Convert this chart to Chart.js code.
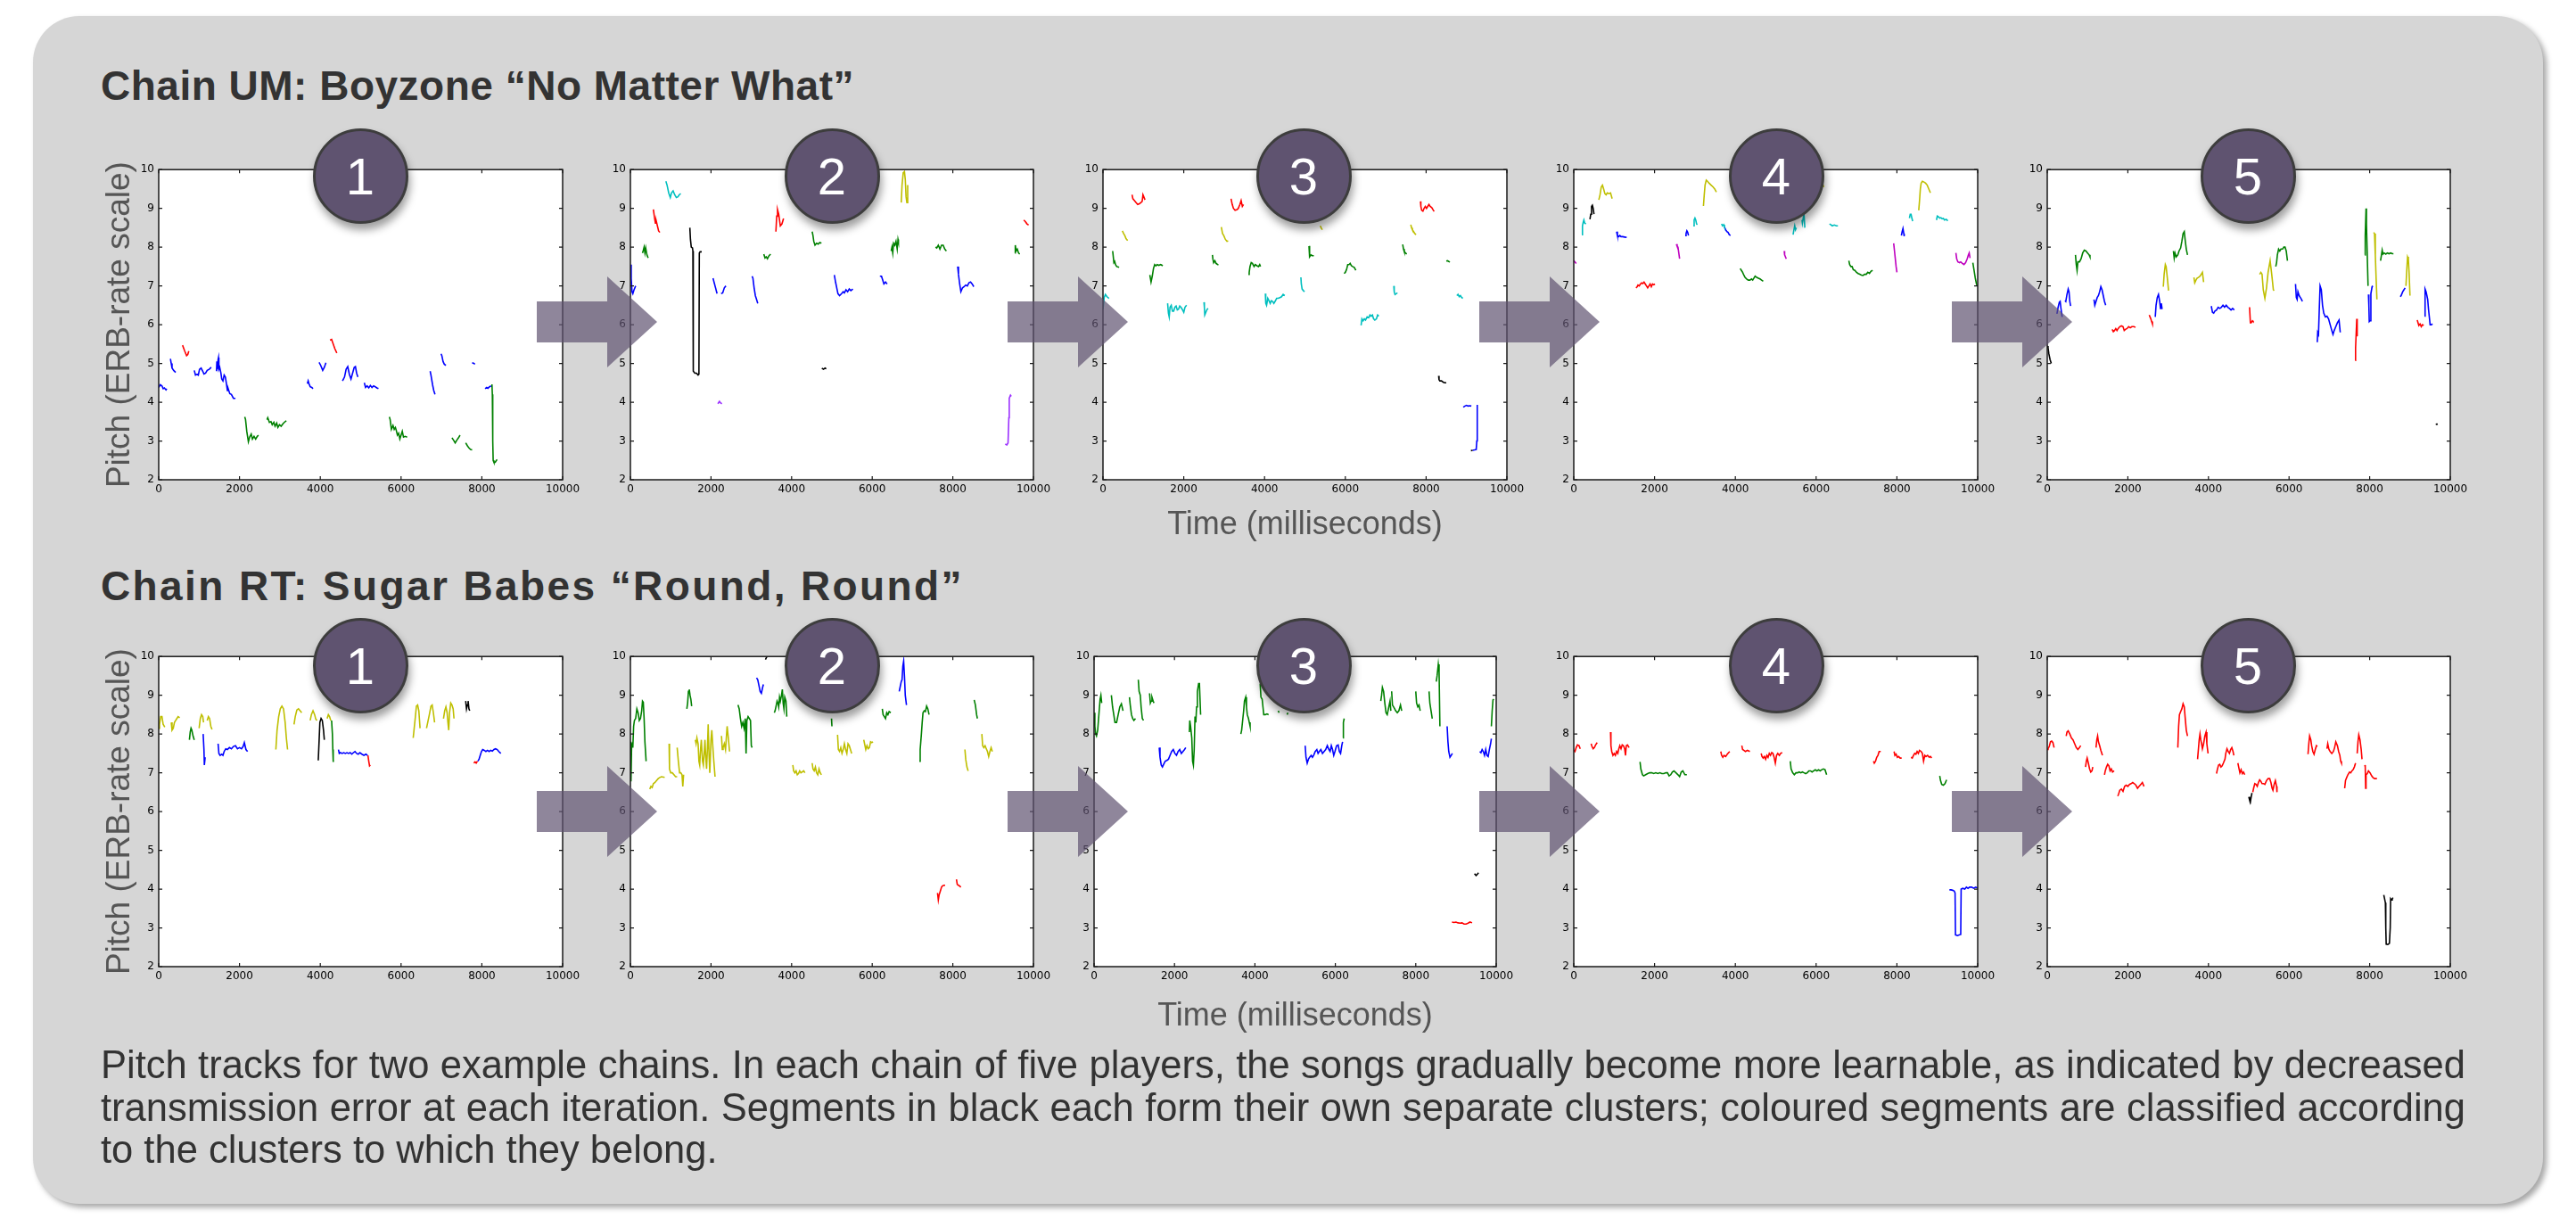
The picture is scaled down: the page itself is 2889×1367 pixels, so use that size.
<!DOCTYPE html>
<html>
<head>
<meta charset="utf-8">
<script src="https://cdn.jsdelivr.net/npm/chart.js@4.4.1/dist/chart.umd.min.js"></script>
<style>
html,body{margin:0;padding:0;background:#fff;}
body{width:2889px;height:1367px;position:relative;overflow:hidden;font-family:"Liberation Sans",Arial,sans-serif;}
#box{position:absolute;left:37px;top:18px;width:2815px;height:1332px;background:#d6d6d6;border-radius:52px;box-shadow:4px 4px 6px rgba(0,0,0,0.35);}
.heading{position:absolute;left:113px;font-weight:bold;font-size:46px;line-height:46px;color:#333;white-space:nowrap;}
canvas.pc{position:absolute;}
#arrows{position:absolute;left:0;top:0;pointer-events:none;}
.badge{position:absolute;width:107px;height:107px;border-radius:50%;background:#5f5370;border:3px solid #3d3d3d;box-sizing:border-box;color:#fff;font-size:58px;line-height:101px;text-align:center;box-shadow:2px 7px 10px rgba(0,0,0,0.38);}
.cap{position:absolute;left:113px;font-size:43.5px;line-height:47.5px;color:#333;white-space:nowrap;}
</style>
</head>
<body>
<div id="box"></div>
<div class="heading" id="h1" style="top:73px">Chain UM: Boyzone “No Matter What”</div>
<div class="heading" id="h2" style="top:634px">Chain RT: Sugar Babes “Round, Round”</div>
<div id="charts"></div>
<svg id="arrows" width="2889" height="1367"></svg>
<div id="badges"></div>
<div class="cap" id="c1" style="top:1171px">Pitch tracks for two example chains. In each chain of five players, the songs gradually become more learnable, as indicated by decreased</div>
<div class="cap" id="c2" style="top:1218.5px">transmission error at each iteration. Segments in black each form their own separate clusters; coloured segments are classified according</div>
<div class="cap" id="c3" style="top:1266px">to the clusters to which they belong.</div>
<script>
// ---------------- DATA ----------------
const xTicks = [0, 2000, 4000, 6000, 8000, 10000];
const yTicks = [2, 3, 4, 5, 6, 7, 8, 9, 10];
const playerLabels = ['1', '2', '3', '4', '5'];
const xTitle = 'Time (milliseconds)';
const yTitle = 'Pitch (ERB-rate scale)';

// each segment: [cluster, [[time ms, pitch], ...]]
const um1 = [
 ['b',[[0,4.38],[40,4.45],[80,4.42],[110,4.35],[140,4.37],[180,4.32],[200,4.35]]],
 ['b',[[290,5.12],[310,5.0],[330,4.88],[370,4.82],[420,4.77]]],
 ['r',[[590,5.47],[640,5.33],[690,5.2],[720,5.23],[745,5.32]]],
 ['b',[[880,4.82],[910,4.7],[950,4.72],[980,4.7],[1010,4.85],[1050,4.88],[1090,4.8],[1120,4.73],[1160,4.75],[1200,4.82],[1250,4.85],[1300,4.9]]],
 ['b',[[1430,4.8],[1440,5.05],[1450,4.85],[1470,5.1],[1480,5.15],[1490,4.85],[1510,4.9],[1540,4.75],[1560,4.6],[1590,4.55],[1620,4.7],[1650,4.65],[1680,4.45],[1700,4.3],[1720,4.35],[1760,4.22],[1800,4.2],[1850,4.1],[1900,4.1]]],
 ['g',[[2130,3.62],[2150,3.55],[2180,3.25],[2220,2.98],[2250,3.1],[2290,3.18],[2320,3.05],[2360,3.12],[2400,3.05],[2440,3.12],[2470,3.15]]],
 ['g',[[2680,3.55],[2700,3.6],[2740,3.48],[2780,3.5],[2810,3.42],[2850,3.48],[2880,3.38],[2920,3.46],[2950,3.35],[2990,3.42],[3030,3.38],[3080,3.45],[3130,3.5],[3160,3.52]]],
 ['b',[[3680,4.48],[3700,4.55],[3720,4.48],[3750,4.4],[3790,4.38],[3820,4.35]]],
 ['b',[[3970,5.03],[4010,4.95],[4060,4.82],[4100,4.9],[4140,5.02]]],
 ['r',[[4240,5.6],[4280,5.62],[4320,5.5],[4360,5.38],[4410,5.27]]],
 ['b',[[4550,4.55],[4600,4.65],[4640,4.85],[4680,4.92],[4720,4.72],[4760,4.6],[4800,4.75],[4840,4.9],[4870,4.92],[4900,4.75],[4930,4.65]]],
 ['b',[[5090,4.5],[5120,4.38],[5160,4.42],[5200,4.37],[5240,4.43],[5280,4.38],[5320,4.42],[5360,4.4],[5400,4.37],[5440,4.35]]],
 ['g',[[5710,3.62],[5730,3.55],[5760,3.3],[5800,3.4],[5830,3.3],[5860,3.35],[5880,3.28],[5910,3.15],[5940,3.2],[5970,3.05],[6000,3.15],[6030,3.25],[6060,3.1],[6100,3.12],[6150,3.1]]],
 ['b',[[6720,4.8],[6740,4.7],[6780,4.45],[6810,4.3],[6840,4.2]]],
 ['b',[[6990,5.25],[7010,5.2],[7040,5.05],[7070,4.98],[7110,4.95]]],
 ['g',[[7260,3.08],[7300,3.02],[7340,2.95],[7380,3.02],[7420,3.08],[7460,3.15]]],
 ['g',[[7600,2.95],[7640,2.88],[7680,2.82],[7720,2.78],[7760,2.77]]],
 ['b',[[7760,5.02],[7800,5.0],[7830,4.98]]],
 ['b',[[8080,4.35],[8120,4.38],[8150,4.36],[8190,4.4],[8230,4.42]]],
 ['g',[[8250,4.46],[8260,4.2],[8270,3.0],[8280,2.5],[8300,2.45],[8330,2.45],[8360,2.5],[8380,2.52]]]
];
const um2 = [
 ['b',[[0,7.55],[20,7.2],[40,6.85],[60,6.8],[90,6.9],[130,7.0]]],
 ['g',[[300,7.85],[320,7.92],[340,8.0],[360,7.85],[380,7.98],[410,7.8],[440,7.72]]],
 ['r',[[570,8.97],[600,8.75],[620,8.62],[640,8.68],[670,8.55],[700,8.42],[730,8.38]]],
 ['c',[[880,9.7],[910,9.6],[950,9.4],[990,9.28],[1020,9.4],[1060,9.45],[1100,9.35],[1140,9.28],[1180,9.3],[1210,9.35],[1250,9.38]]],
 ['k',[[1475,8.5],[1490,8.2],[1510,8.0],[1540,7.98],[1550,7.9],[1560,4.8],[1600,4.75],[1640,4.75],[1680,4.7],[1700,4.72],[1710,7.85],[1730,7.88],[1770,7.88]]],
 ['b',[[2050,7.2],[2100,7.0],[2150,6.8]]],
 ['v',[[2170,3.96],[2210,4.02],[2240,3.98],[2270,3.96]]],
 ['b',[[2250,6.8],[2290,6.82],[2330,6.95],[2370,7.0]]],
 ['b',[[3020,7.25],[3040,7.2],[3070,6.95],[3100,6.75],[3130,6.65],[3160,6.55]]],
 ['g',[[3310,7.82],[3340,7.72],[3370,7.75],[3400,7.7],[3440,7.78],[3480,7.82]]],
 ['r',[[3610,8.4],[3630,8.8],[3650,8.97],[3680,8.85],[3720,8.55],[3760,8.6],[3800,8.74]]],
 ['g',[[4510,8.4],[4530,8.3],[4550,8.15],[4580,8.05],[4620,8.1],[4660,8.08],[4700,8.12],[4740,8.1]]],
 ['k',[[4750,4.88],[4790,4.85],[4830,4.88],[4860,4.86]]],
 ['b',[[5060,7.28],[5090,7.1],[5120,6.95],[5150,6.8],[5190,6.75],[5240,6.8],[5280,6.85],[5310,6.82],[5350,6.9],[5390,6.85],[5430,6.92],[5470,6.88],[5520,6.92]]],
 ['b',[[6190,7.25],[6230,7.25],[6260,7.15],[6290,7.05],[6330,7.1],[6370,7.05]]],
 ['g',[[6470,7.9],[6490,8.0],[6510,7.85],[6530,8.1],[6560,8.05],[6590,8.15],[6620,7.95],[6640,8.2],[6650,8.15]]],
 ['y',[[6720,9.15],[6740,9.6],[6770,9.92],[6800,9.95],[6820,9.75],[6840,9.3],[6860,9.15],[6880,9.6]]],
 ['g',[[7570,8.0],[7600,7.98],[7640,8.05],[7680,7.95],[7720,8.05],[7760,8.05],[7800,7.95],[7840,7.9]]],
 ['b',[[8120,7.5],[8140,7.3],[8170,7.05],[8200,6.85],[8240,6.95],[8280,6.98],[8320,7.02],[8360,7.0],[8400,7.08],[8440,7.1],[8480,7.05],[8520,6.98]]],
 ['v',[[9300,2.92],[9340,2.9],[9370,2.95],[9390,3.6],[9400,4.1],[9430,4.18],[9450,4.15]]],
 ['g',[[9540,7.85],[9550,8.05],[9570,7.9],[9600,7.95],[9630,7.85],[9660,7.82]]],
 ['r',[[9760,8.7],[9800,8.66],[9840,8.6],[9880,8.57]]]
];
const um3 = [
 ['c',[[0,6.4],[30,6.7],[60,6.78],[100,6.72],[150,6.68]]],
 ['g',[[240,7.9],[260,7.7],[270,7.6],[290,7.63],[310,7.55],[340,7.5],[400,7.48]]],
 ['y',[[480,8.42],[510,8.35],[540,8.3],[570,8.22],[610,8.17]]],
 ['r',[[720,9.35],[740,9.25],[780,9.2],[820,9.15],[860,9.1],[900,9.12],[940,9.15],[970,9.18],[990,9.35],[1010,9.3],[1040,9.22]]],
 ['g',[[1160,7.28],[1190,7.1],[1220,7.25],[1250,7.45],[1280,7.55],[1310,7.52],[1340,7.55],[1380,7.53],[1430,7.55],[1480,7.52]]],
 ['c',[[1600,6.55],[1620,6.3],[1640,6.2],[1660,6.45],[1690,6.5],[1720,6.35],[1750,6.35],[1780,6.45],[1810,6.48],[1840,6.38],[1870,6.4],[1900,6.48],[1930,6.45],[1960,6.4],[2000,6.32],[2030,6.45],[2070,6.5]]],
 ['c',[[2500,6.58],[2510,6.45],[2520,6.25],[2540,6.3],[2570,6.38],[2600,6.42]]],
 ['g',[[2710,7.8],[2720,7.7],[2740,7.6],[2770,7.65],[2800,7.58],[2840,7.55],[2860,7.55]]],
 ['y',[[2930,8.52],[2960,8.35],[2990,8.3],[3030,8.2],[3070,8.15],[3100,8.16]]],
 ['r',[[3170,9.25],[3200,9.1],[3230,9.0],[3270,8.95],[3320,8.97],[3350,9.0],[3390,9.1],[3420,9.2],[3450,9.05],[3480,9.1]]],
 ['g',[[3600,7.3],[3620,7.35],[3640,7.5],[3670,7.6],[3700,7.58],[3740,7.5],[3770,7.55],[3810,7.52],[3850,7.5],[3880,7.55],[3900,7.5]]],
 ['c',[[4020,6.8],[4030,6.55],[4050,6.5],[4080,6.68],[4110,6.62],[4140,6.55],[4170,6.62],[4200,6.6],[4230,6.55],[4260,6.6],[4300,6.68],[4340,6.68],[4380,6.7],[4420,6.72],[4460,6.78],[4500,6.75]]],
 ['c',[[4900,7.22],[4910,7.05],[4930,6.92],[4960,6.88],[4990,6.85],[5010,6.85]]],
 ['g',[[5100,8.03],[5110,7.85],[5120,7.75],[5150,7.8],[5180,7.78],[5220,7.78]]],
 ['y',[[5380,8.55],[5400,8.5],[5430,8.45]]],
 ['g',[[5970,7.32],[6000,7.35],[6030,7.42],[6060,7.55],[6090,7.55],[6120,7.58],[6150,7.52],[6180,7.5],[6220,7.48],[6260,7.4]]],
 ['c',[[6390,5.98],[6410,6.15],[6440,6.1],[6470,6.15],[6500,6.12],[6540,6.2],[6580,6.18],[6610,6.25],[6640,6.22],[6670,6.25],[6700,6.15],[6730,6.12],[6770,6.15],[6800,6.25],[6830,6.22]]],
 ['c',[[7200,7.0],[7210,6.85],[7230,6.78],[7260,6.8],[7290,6.82]]],
 ['g',[[7420,8.07],[7440,7.95],[7460,7.88],[7490,7.85],[7520,7.82]]],
 ['y',[[7620,8.58],[7640,8.5],[7660,8.45],[7690,8.4],[7720,8.35],[7750,8.32]]],
 ['r',[[7860,9.18],[7870,9.05],[7890,8.95],[7920,8.93],[7950,9.0],[7980,9.05],[8010,9.0],[8040,9.05],[8070,9.1],[8100,9.05],[8140,9.02],[8180,8.95],[8200,8.92]]],
 ['k',[[8310,4.68],[8320,4.58],[8340,4.55],[8380,4.55],[8420,4.52],[8460,4.5],[8500,4.5]]],
 ['g',[[8500,7.64],[8530,7.65],[8560,7.63],[8590,7.62]]],
 ['c',[[8760,6.75],[8790,6.78],[8820,6.72],[8850,6.75],[8880,6.7],[8910,6.68]]],
 ['b',[[8920,3.87],[8960,3.9],[9000,3.92],[9040,3.9],[9080,3.91],[9120,3.9]]],
 ['k',[[9110,2.75],[9150,2.76]]],
 ['b',[[9150,2.76],[9200,2.77],[9240,2.78],[9255,3.0],[9262,3.92],[9270,3.93]]]
];
const um4 = [
 ['m',[[0,7.65],[30,7.62],[60,7.58]]],
 ['c',[[200,8.32],[215,8.55],[235,8.65],[250,8.7],[270,8.62],[300,8.6]]],
 ['k',[[400,8.72],[420,8.85],[440,9.05],[460,9.08],[480,9.0],[500,8.85]]],
 ['y',[[620,9.22],[650,9.35],[680,9.55],[710,9.6],[740,9.5],[770,9.38],[800,9.35],[830,9.4],[870,9.38],[910,9.4],[950,9.25]]],
 ['b',[[1060,8.4],[1080,8.3],[1110,8.27],[1140,8.3],[1170,8.27],[1210,8.27],[1260,8.26],[1310,8.25]]],
 ['r',[[1540,6.95],[1570,6.98],[1590,7.02],[1620,7.0],[1650,7.05],[1680,7.08],[1710,7.06],[1740,7.1],[1770,7.05],[1800,7.0],[1830,6.95],[1860,7.0],[1890,7.05],[1920,6.98],[1950,7.05],[1980,7.03],[2010,7.05]]],
 ['m',[[2540,8.08],[2560,8.02],[2580,8.0],[2600,7.85],[2620,7.7]]],
 ['b',[[2760,8.3],[2780,8.35],[2800,8.42],[2820,8.38],[2840,8.3]]],
 ['c',[[2960,8.55],[2980,8.7],[3000,8.75],[3020,8.7],[3040,8.6],[3060,8.58]]],
 ['y',[[3210,9.06],[3230,9.35],[3250,9.6],[3280,9.73],[3310,9.7],[3350,9.65],[3400,9.6],[3450,9.55],[3490,9.5],[3530,9.42]]],
 ['c',[[3660,8.6],[3680,8.55],[3710,8.58],[3730,8.52]]],
 ['b',[[3730,8.52],[3760,8.45],[3790,8.4],[3820,8.38],[3850,8.32],[3880,8.3]]],
 ['g',[[4120,7.45],[4150,7.4],[4180,7.35],[4210,7.28],[4240,7.22],[4280,7.18],[4320,7.15],[4360,7.15],[4400,7.18],[4430,7.15],[4460,7.2],[4490,7.25],[4530,7.22],[4570,7.2],[4610,7.18],[4650,7.15],[4690,7.12]]],
 ['m',[[5210,7.9],[5220,7.8],[5240,7.75],[5260,7.7]]],
 ['c',[[5430,8.32],[5450,8.45],[5470,8.55],[5490,8.45],[5510,8.5]]],
 ['c',[[5650,8.7],[5660,8.62],[5680,8.75],[5700,8.85],[5720,8.5]]],
 ['y',[[6150,9.65],[6170,9.6],[6190,9.55]]],
 ['c',[[6330,8.6],[6360,8.58],[6400,8.55],[6450,8.57],[6500,8.55],[6540,8.55]]],
 ['g',[[6810,7.65],[6830,7.55],[6860,7.5],[6890,7.5],[6920,7.42],[6960,7.4],[7000,7.35],[7040,7.32],[7080,7.3],[7120,7.28],[7160,7.27],[7200,7.3],[7240,7.3],[7280,7.35],[7320,7.32],[7360,7.38],[7400,7.4]]],
 ['m',[[7920,8.1],[7940,7.9],[7960,7.7],[7980,7.5],[8000,7.35]]],
 ['b',[[8110,8.3],[8130,8.4],[8150,8.48],[8170,8.35],[8180,8.28]]],
 ['c',[[8310,8.75],[8330,8.85],[8350,8.85],[8370,8.75],[8390,8.67]]],
 ['y',[[8540,8.95],[8560,9.2],[8580,9.5],[8600,9.65],[8630,9.7],[8670,9.68],[8710,9.65],[8750,9.6],[8790,9.5],[8830,9.4]]],
 ['c',[[8980,8.7],[9000,8.8],[9030,8.78],[9060,8.75],[9090,8.76],[9120,8.73],[9150,8.74],[9180,8.7],[9220,8.72],[9260,8.68]]],
 ['m',[[9460,7.85],[9480,7.7],[9510,7.62],[9550,7.6],[9580,7.62],[9620,7.58],[9660,7.55],[9700,7.6],[9740,7.7],[9770,7.8],[9790,7.85],[9810,7.72]]],
 ['g',[[9880,7.6],[9910,7.4],[9940,7.2],[9970,7.05],[9990,7.0]]]
];
const um5 = [
 ['k',[[0,5.45],[20,5.4],[40,5.25],[70,5.1],[100,5.0]]],
 ['b',[[240,6.28],[270,6.45],[300,6.58],[320,6.6],[340,6.42],[370,6.2]]],
 ['b',[[440,6.62],[460,6.6],[490,6.78],[520,6.92],[540,6.85],[560,6.6],[580,6.48]]],
 ['g',[[700,7.8],[720,7.55],[740,7.4],[760,7.62],[800,7.62],[840,7.7],[880,7.85],[920,7.92],[960,7.9],[1000,7.85],[1040,7.8],[1060,7.75]]],
 ['b',[[1160,6.65],[1180,6.5],[1210,6.6],[1240,6.7],[1270,6.75],[1300,6.85],[1330,6.98],[1360,6.9],[1390,6.75],[1420,6.6],[1450,6.5]]],
 ['r',[[1610,5.88],[1640,5.82],[1670,5.85],[1700,5.9],[1730,5.85],[1760,5.9],[1800,5.95],[1840,5.97],[1880,5.95],[1910,5.85],[1940,5.88],[1980,5.9],[2020,5.95],[2060,5.92],[2100,5.95],[2150,5.95],[2190,5.93]]],
 ['r',[[2530,6.25],[2550,6.2],[2570,6.15],[2590,6.08],[2610,6.02]]],
 ['b',[[2680,6.2],[2700,6.5],[2730,6.7],[2760,6.78],[2790,6.6],[2810,6.42],[2830,6.55],[2850,6.4]]],
 ['y',[[2880,6.98],[2900,7.3],[2930,7.55],[2950,7.5],[2980,7.2],[3010,6.88]]],
 ['g',[[3130,7.9],[3150,7.72],[3170,7.85],[3200,7.75],[3240,7.8],[3270,7.9],[3310,7.98],[3340,8.15],[3370,8.35],[3400,8.4],[3420,8.2],[3450,7.95],[3480,7.8]]],
 ['y',[[3640,7.22],[3660,7.08],[3690,7.15],[3720,7.2],[3750,7.22],[3790,7.25],[3820,7.3],[3850,7.35],[3880,7.1]]],
 ['b',[[4070,6.48],[4100,6.32],[4130,6.3],[4160,6.35],[4200,6.38],[4240,6.45],[4280,6.42],[4320,6.45],[4360,6.5],[4400,6.45],[4440,6.5],[4480,6.45],[4520,6.42],[4560,6.38],[4600,6.42],[4640,6.38]]],
 ['r',[[5020,6.45],[5040,6.05],[5060,6.05],[5090,6.1],[5110,6.08]]],
 ['y',[[5270,7.3],[5300,7.35],[5330,7.3],[5360,6.9],[5400,6.68],[5440,6.95],[5480,7.35],[5530,7.65],[5570,7.3],[5610,6.9],[5630,6.88]]],
 ['g',[[5670,7.5],[5690,7.6],[5710,7.8],[5740,7.95],[5770,7.9],[5800,7.95],[5840,7.95],[5870,8.0],[5900,8.0],[5930,7.9],[5960,7.65]]],
 ['b',[[6160,7.05],[6180,6.7],[6200,6.65],[6220,6.85],[6250,6.75],[6280,6.7],[6310,6.65],[6330,6.6]]],
 ['b',[[6700,5.55],[6710,5.8],[6730,5.75],[6750,6.4],[6770,7.0],[6800,6.9],[6830,6.5],[6860,6.3],[6900,6.2],[6940,6.22],[6980,6.15],[7020,6.0],[7060,5.85],[7090,5.75],[7120,5.85],[7160,5.95],[7200,6.05],[7240,6.12],[7270,5.8]]],
 ['r',[[7640,5.08],[7650,5.4],[7670,5.9],[7680,6.15],[7690,5.7]]],
 ['g',[[7880,7.8],[7890,8.3],[7910,9.0],[7920,8.6],[7940,7.8],[7960,7.0]]],
 ['b',[[7970,6.78],[7980,6.5],[7990,6.08],[8010,6.1],[8030,6.8],[8060,6.98],[8080,7.0]]],
 ['y',[[8100,8.38],[8120,8.35],[8140,7.8],[8160,7.2],[8180,6.65]]],
 ['g',[[8270,7.65],[8290,7.78],[8310,7.92],[8330,7.82],[8360,7.85],[8400,7.82],[8440,7.85],[8480,7.83],[8520,7.85],[8560,7.83],[8590,7.83]]],
 ['b',[[8760,6.72],[8780,6.75],[8800,6.8],[8820,6.85],[8850,6.9],[8880,6.95]]],
 ['y',[[8900,7.0],[8920,7.4],[8940,7.75],[8960,7.7],[8980,7.3],[9000,6.75]]],
 ['r',[[9180,6.12],[9200,6.05],[9220,5.98],[9250,6.02],[9280,5.95],[9310,6.0],[9340,5.98]]],
 ['b',[[9360,6.22],[9370,6.6],[9380,6.92],[9400,6.85],[9420,6.75],[9440,6.65],[9460,6.4],[9480,6.2],[9500,6.0],[9530,6.0],[9560,6.02]]],
 ['k',[[9640,3.44],[9660,3.43],[9690,3.44]]]
];
const rt1 = [
 ['y',[[0,8.15],[20,8.25],[50,8.45],[80,8.45],[110,8.25],[150,8.18]]],
 ['y',[[310,8.3],[330,8.1],[360,8.15],[390,8.3],[420,8.35],[450,8.4],[480,8.45],[520,8.42]]],
 ['g',[[760,7.85],[780,8.05],[800,8.15],[820,8.1],[850,7.95],[880,7.85]]],
 ['y',[[1000,8.15],[1030,8.4],[1060,8.5],[1090,8.45],[1110,8.3]]],
 ['b',[[1100,8.0],[1120,7.6],[1130,7.2],[1140,7.2],[1150,7.4]]],
 ['y',[[1200,8.35],[1230,8.45],[1260,8.4],[1290,8.2],[1320,8.12]]],
 ['b',[[1470,7.75],[1490,7.5],[1520,7.45],[1560,7.48],[1590,7.45],[1620,7.55],[1660,7.62],[1700,7.6],[1750,7.65],[1800,7.62],[1850,7.68],[1900,7.7],[1950,7.62],[2000,7.65],[2050,7.62],[2090,7.68],[2120,7.78],[2160,7.6],[2200,7.55]]],
 ['y',[[2900,7.6],[2930,8.1],[2970,8.45],[3010,8.65],[3050,8.72],[3090,8.65],[3130,8.3],[3160,7.9],[3190,7.6]]],
 ['y',[[3350,8.25],[3380,8.45],[3420,8.62],[3460,8.65],[3500,8.6],[3540,8.55]]],
 ['y',[[3750,8.35],[3780,8.5],[3820,8.6],[3860,8.5],[3890,8.38],[3920,8.35]]],
 ['k',[[3950,7.32],[3970,7.8],[3990,8.3],[4020,8.4],[4050,8.35],[4080,8.1],[4100,7.85]]],
 ['y',[[4170,8.4],[4200,8.5],[4230,8.45],[4260,8.35]]],
 ['g',[[4280,8.35],[4300,8.0],[4310,7.6],[4320,7.3],[4340,7.3]]],
 ['b',[[4450,7.6],[4470,7.5],[4500,7.52],[4540,7.5],[4580,7.52],[4620,7.5],[4660,7.52],[4700,7.5],[4740,7.52],[4780,7.48],[4820,7.52],[4860,7.55],[4900,7.5],[4940,7.48],[4980,7.52],[5030,7.48],[5080,7.45],[5130,7.48],[5170,7.45]]],
 ['r',[[5180,7.45],[5200,7.3],[5220,7.18],[5240,7.2]]],
 ['y',[[6300,7.9],[6320,8.1],[6350,8.4],[6380,8.72],[6410,8.75],[6440,8.6],[6470,8.15]]],
 ['y',[[6630,8.15],[6660,8.3],[6700,8.5],[6740,8.72],[6770,8.75],[6800,8.55],[6830,8.3]]],
 ['y',[[7050,8.4],[7080,8.6],[7110,8.7],[7140,8.55],[7160,8.3],[7180,8.1],[7200,8.55],[7230,8.8],[7260,8.75],[7290,8.65],[7310,8.4]]],
 ['k',[[7600,8.85],[7620,8.65],[7640,8.75],[7660,8.85],[7680,8.65],[7700,8.6]]],
 ['r',[[7800,7.25],[7830,7.28],[7860,7.25],[7890,7.3]]],
 ['b',[[7900,7.3],[7930,7.35],[7960,7.45],[7990,7.55],[8020,7.6],[8060,7.58],[8100,7.55],[8140,7.58],[8180,7.55],[8220,7.58],[8260,7.56],[8300,7.6],[8340,7.62],[8380,7.6],[8420,7.55],[8470,7.5]]]
];
const rt2 = [
 ['g',[[0,7.8],[10,7.0],[20,6.78],[30,7.7],[50,7.75],[60,7.65],[80,8.2],[100,8.35],[130,8.4],[160,8.65],[190,8.55],[220,8.35],[250,8.4],[280,8.6],[300,8.85],[320,8.82],[340,8.4],[360,7.8],[390,7.3]]],
 ['y',[[480,6.58],[510,6.65],[540,6.62],[570,6.72],[610,6.75],[650,6.8],[690,6.85],[730,6.88],[770,6.9],[850,6.88]]],
 ['y',[[960,7.75],[970,7.1],[1000,7.0],[1040,7.0],[1080,6.95],[1120,6.9],[1160,6.9]]],
 ['y',[[1160,7.65],[1190,7.3],[1220,7.0],[1250,7.0],[1280,6.95],[1300,6.65],[1320,6.95]]],
 ['g',[[1400,8.65],[1420,8.8],[1440,9.1],[1460,9.15],[1480,9.0],[1500,8.9],[1520,8.72]]],
 ['y',[[1610,7.85],[1630,7.75],[1650,7.9],[1680,7.75],[1700,7.3],[1720,7.2],[1740,7.6],[1760,7.85],[1790,7.3],[1810,7.2],[1830,7.5],[1850,7.85],[1870,7.4],[1890,7.1],[1910,7.6],[1930,8.25],[1950,7.5],[1970,7.0],[2000,7.85],[2020,8.1],[2050,7.6],[2070,7.3],[2100,6.9]]],
 ['y',[[2260,7.95],[2280,7.6],[2300,7.65],[2330,7.75],[2360,7.6],[2400,8.2],[2430,7.9],[2460,7.55]]],
 ['g',[[2670,8.75],[2700,8.65],[2730,8.4],[2760,8.2],[2790,8.3],[2820,8.15],[2850,8.4],[2870,7.5],[2890,8.35],[2920,8.45],[2950,8.4],[2980,8.35],[3000,7.7],[3020,7.65]]],
 ['b',[[3130,9.45],[3160,9.4],[3190,9.25],[3220,9.1],[3250,9.05],[3280,9.2],[3300,9.28]]],
 ['k',[[3350,9.92],[3370,9.96],[3390,10.0]]],
 ['g',[[3570,8.55],[3590,8.6],[3620,8.75],[3640,8.85],[3660,8.8],[3680,8.7],[3700,8.95],[3720,8.85],[3750,9.0],[3770,9.15],[3790,8.8],[3810,8.65],[3830,8.95],[3860,8.85],[3880,8.45]]],
 ['y',[[4030,7.2],[4050,7.05],[4080,7.0],[4110,7.05],[4140,6.95],[4170,6.98],[4200,7.05],[4230,7.0],[4260,7.02],[4300,7.05],[4330,7.0]]],
 ['y',[[4510,7.25],[4530,7.1],[4560,7.05],[4590,7.15],[4620,7.0],[4650,6.95],[4680,7.1],[4710,7.0],[4740,6.95]]],
 ['g',[[4990,8.4],[5000,8.2]]],
 ['y',[[5140,7.98],[5160,7.6],[5190,7.55],[5220,7.65],[5250,7.5],[5280,7.6],[5310,7.75],[5340,7.6],[5370,7.5],[5400,7.75],[5430,7.7],[5460,7.6],[5490,7.5]]],
 ['y',[[5790,7.85],[5810,7.75],[5840,7.6],[5870,7.7],[5900,7.62],[5930,7.65],[5960,7.8],[5990,7.78],[6020,7.8]]],
 ['g',[[6250,8.65],[6270,8.5],[6300,8.45],[6330,8.4],[6360,8.55],[6390,8.5],[6420,8.58],[6460,8.55]]],
 ['b',[[6670,9.1],[6690,9.2],[6720,9.35],[6740,9.4],[6760,9.75],[6780,9.88],[6800,9.5],[6820,9.0],[6850,8.75]]],
 ['g',[[7170,7.3],[7190,7.6],[7220,8.0],[7240,8.3],[7260,8.55],[7290,8.6],[7320,8.58],[7350,8.72],[7380,8.65],[7410,8.5]]],
 ['r',[[7620,3.9],[7640,3.72],[7660,3.85],[7690,3.95],[7720,4.05],[7740,4.08],[7780,4.1],[7810,4.1]]],
 ['r',[[8090,4.25],[8110,4.12],[8140,4.1],[8170,4.08],[8200,4.05]]],
 ['y',[[8300,7.6],[8320,7.35],[8350,7.15],[8380,7.05]]],
 ['g',[[8530,8.88],[8560,8.75],[8590,8.5],[8610,8.4]]],
 ['y',[[8720,8.0],[8740,7.7],[8770,7.65],[8800,7.7],[8830,7.62],[8860,7.55],[8890,7.42],[8920,7.55],[8950,7.65],[8980,7.55]]]
];
const rt3 = [
 ['g',[[0,8.55],[20,8.2],[40,8.0],[60,7.95],[90,8.1],[120,8.5],[150,8.9],[170,9.0],[190,8.8]]],
 ['g',[[430,9.0],[460,8.7],[490,8.5],[520,8.3],[560,8.3],[600,8.5],[640,8.7],[680,8.78],[720,8.6]]],
 ['g',[[880,8.95],[900,8.75],[930,8.5],[960,8.4],[990,8.35],[1030,8.4]]],
 ['g',[[1100,9.4],[1120,9.1],[1150,9.0],[1170,8.7],[1200,8.4],[1230,8.35]]],
 ['g',[[1380,9.05],[1400,8.8],[1420,8.85],[1440,8.95],[1470,8.85],[1490,8.8]]],
 ['b',[[1620,7.65],[1640,7.4],[1670,7.2],[1700,7.15],[1730,7.22],[1770,7.3],[1810,7.32],[1850,7.35],[1890,7.45],[1930,7.55],[1970,7.6],[2010,7.5],[2050,7.45],[2090,7.55],[2130,7.6],[2170,7.5],[2210,7.55],[2250,7.6],[2280,7.65]]],
 ['g',[[2370,8.05],[2380,8.35],[2400,8.2],[2430,7.9],[2450,7.3],[2470,7.2],[2490,7.6],[2510,8.45],[2530,8.3],[2550,8.7],[2570,9.1],[2600,9.3],[2620,9.3],[2650,8.5]]],
 ['g',[[3650,8.0],[3670,8.1],[3700,8.4],[3720,8.6],[3740,8.85],[3770,8.95],[3790,8.7],[3810,8.5],[3840,8.4],[3860,8.3],[3880,8.2]]],
 ['g',[[4130,9.3],[4150,8.95],[4180,8.9],[4200,8.7],[4220,8.5],[4260,8.5],[4300,8.52],[4340,8.5]]],
 ['g',[[4580,8.6],[4600,8.55]]],
 ['g',[[4800,8.5],[4820,8.55]]],
 ['b',[[5250,7.7],[5270,7.4],[5300,7.25],[5330,7.35],[5360,7.4],[5400,7.45],[5430,7.4],[5460,7.45],[5500,7.55],[5540,7.6],[5570,7.5],[5600,7.55],[5640,7.6],[5680,7.5],[5720,7.55],[5760,7.6],[5800,7.7],[5840,7.6],[5870,7.55],[5900,7.7],[5930,7.6],[5960,7.45],[5990,7.55],[6030,7.7],[6070,7.72],[6100,7.55],[6130,7.5],[6160,7.7],[6180,7.8]]],
 ['g',[[6190,7.9],[6200,8.3],[6220,8.4]]],
 ['g',[[7130,8.85],[7150,9.0],[7170,9.2],[7200,9.1],[7230,8.8],[7260,8.55],[7290,8.5],[7330,8.7],[7360,8.85],[7380,8.6]]],
 ['g',[[7400,9.1],[7420,8.75],[7460,8.68],[7500,8.6],[7540,8.55],[7580,8.6],[7620,8.75],[7650,8.6]]],
 ['g',[[8000,9.1],[8020,8.8],[8050,8.7],[8080,8.75],[8110,8.6]]],
 ['g',[[8330,9.1],[8350,8.8],[8380,8.6],[8410,8.4]]],
 ['g',[[8510,9.35],[8530,9.5],[8560,9.8],[8580,9.6],[8600,8.2]]],
 ['b',[[8780,8.2],[8800,7.8],[8820,7.55],[8850,7.4],[8880,7.45],[8910,7.5]]],
 ['r',[[8900,3.15],[8950,3.14],[9000,3.15],[9050,3.13],[9100,3.12],[9150,3.13],[9200,3.1],[9250,3.1],[9300,3.12],[9350,3.15],[9400,3.13]]],
 ['k',[[9460,4.4],[9500,4.35],[9530,4.38],[9560,4.42]]],
 ['b',[[9590,7.55],[9620,7.52],[9650,7.6],[9680,7.55],[9710,7.45],[9740,7.6],[9770,7.45],[9800,7.42],[9830,7.6],[9860,7.75],[9880,7.88]]],
 ['g',[[9880,8.2],[9900,8.6],[9920,8.88],[9940,8.9]]]
];
const rt4 = [
 ['r',[[0,7.58],[30,7.55],[60,7.65],[90,7.72],[130,7.7],[160,7.62]]],
 ['r',[[430,7.75],[450,7.68],[480,7.62],[510,7.65],[540,7.72],[580,7.78]]],
 ['r',[[910,8.05],[920,7.7],[940,7.55],[970,7.45],[1000,7.5],[1030,7.45],[1060,7.55],[1090,7.5],[1110,7.6],[1140,7.7],[1170,7.62],[1200,7.72],[1230,7.7],[1260,7.62],[1280,7.45],[1300,7.7],[1330,7.72],[1370,7.65]]],
 ['g',[[1640,7.28],[1660,7.1],[1700,6.95],[1730,6.92],[1780,6.95],[1830,6.98],[1880,7.0],[1930,7.0],[1980,6.98],[2030,7.0],[2080,6.98],[2130,7.0],[2180,6.98],[2230,6.98],[2280,7.0],[2320,7.0],[2360,6.92],[2400,6.95],[2440,7.02],[2480,7.05],[2530,7.0],[2580,6.95],[2620,6.9],[2660,7.02],[2700,7.05],[2750,6.95],[2800,6.95]]],
 ['r',[[3640,7.55],[3660,7.45],[3690,7.4],[3720,7.45],[3760,7.42],[3800,7.48],[3860,7.55]]],
 ['r',[[4160,7.7],[4180,7.6],[4210,7.58],[4250,7.55],[4300,7.58],[4360,7.55]]],
 ['r',[[4640,7.5],[4660,7.42],[4690,7.38],[4720,7.42],[4750,7.35],[4780,7.45],[4810,7.4],[4840,7.5],[4870,7.45],[4900,7.52],[4930,7.5],[4960,7.4],[4990,7.25],[5020,7.45],[5050,7.5],[5090,7.45],[5120,7.5],[5160,7.52]]],
 ['g',[[5360,7.3],[5380,7.1],[5420,7.0],[5460,6.95],[5500,7.0],[5540,7.0],[5580,7.02],[5620,7.0],[5660,7.02],[5700,7.0],[5740,6.98],[5780,7.0],[5820,7.05],[5860,7.05],[5900,7.02],[5940,7.05],[5980,7.08],[6020,7.05],[6060,7.08],[6100,7.05],[6140,7.08],[6180,7.1],[6220,7.08],[6260,6.95]]],
 ['r',[[7420,7.3],[7440,7.25],[7470,7.3],[7500,7.4],[7530,7.45],[7560,7.55],[7600,7.55]]],
 ['r',[[7930,7.55],[7950,7.45],[7980,7.48],[8010,7.4],[8040,7.42],[8080,7.38],[8100,7.4]]],
 ['r',[[8350,7.4],[8380,7.38],[8410,7.45],[8440,7.5],[8470,7.48],[8500,7.55],[8530,7.5],[8560,7.58],[8600,7.55],[8630,7.5],[8660,7.3],[8690,7.45],[8720,7.42],[8760,7.45],[8800,7.4],[8830,7.42],[8860,7.38]]],
 ['g',[[9060,6.92],[9080,6.8],[9110,6.7],[9150,6.68],[9190,6.72],[9230,6.82]]],
 ['b',[[9300,3.98],[9340,3.98],[9380,3.97],[9420,3.95],[9440,3.9],[9450,2.82],[9500,2.8],[9550,2.82],[9580,2.83],[9590,4.0],[9630,4.02],[9680,4.0],[9720,4.05],[9760,4.02],[9800,4.05],[9850,4.05],[9900,4.02],[9950,4.05],[10000,4.03]]]
];
const rt5 = [
 ['r',[[0,7.6],[20,7.62],[50,7.68],[80,7.8],[110,7.82],[140,7.78],[170,7.65]]],
 ['r',[[470,7.95],[490,8.05],[520,8.08],[560,8.0],[600,7.9],[640,7.85],[680,7.75],[720,7.65],[760,7.6],[800,7.65],[830,7.7]]],
 ['r',[[950,7.15],[970,7.3],[990,7.38],[1020,7.25],[1050,7.1],[1080,7.02],[1110,7.05],[1130,7.15]]],
 ['r',[[1210,7.65],[1230,7.85],[1250,7.95],[1270,7.8],[1300,7.7],[1330,7.58],[1370,7.45]]],
 ['r',[[1420,6.95],[1440,7.05],[1470,7.15],[1500,7.22],[1530,7.18],[1560,7.05],[1590,7.1],[1620,7.02],[1660,7.05]]],
 ['r',[[1750,6.4],[1770,6.45],[1800,6.55],[1840,6.58],[1880,6.52],[1920,6.65],[1960,6.68],[2000,6.65],[2040,6.7],[2080,6.72],[2120,6.75],[2160,6.72],[2200,6.68],[2240,6.6],[2280,6.65],[2320,6.7],[2360,6.75],[2400,6.65]]],
 ['r',[[3240,7.65],[3260,8.2],[3280,8.5],[3310,8.58],[3340,8.65],[3370,8.78],[3400,8.7],[3420,8.45],[3450,8.1],[3480,7.95]]],
 ['r',[[3730,7.35],[3750,7.6],[3770,7.85],[3790,8.0],[3810,7.85],[3830,7.75],[3850,7.62],[3880,7.75],[3910,7.95],[3940,8.05],[3960,7.75],[3990,7.5]]],
 ['r',[[4200,6.98],[4220,7.08],[4250,7.2],[4280,7.22],[4310,7.15],[4340,7.18],[4370,7.25],[4410,7.35],[4430,7.5],[4460,7.62],[4490,7.55],[4520,7.5],[4550,7.6],[4580,7.65],[4610,7.55],[4630,7.45]]],
 ['r',[[4730,7.25],[4750,7.15],[4780,7.0],[4810,7.08],[4840,6.98],[4870,7.02],[4900,6.95]]],
 ['k',[[5000,6.38],[5020,6.3],[5040,6.25],[5060,6.38],[5080,6.48]]],
 ['r',[[5100,6.5],[5120,6.6],[5150,6.72],[5180,6.7],[5210,6.65],[5240,6.75],[5270,6.82],[5300,6.78],[5330,6.72],[5370,6.72],[5400,6.7],[5440,6.8],[5480,6.85],[5520,6.85],[5550,6.75],[5580,6.6],[5600,6.55],[5630,6.7],[5660,6.8],[5690,6.65],[5700,6.5]]],
 ['r',[[6470,7.48],[6490,7.75],[6510,7.95],[6540,7.85],[6560,7.7],[6590,7.55],[6620,7.48],[6650,7.6],[6680,7.7],[6700,7.68]]],
 ['r',[[6940,7.62],[6960,7.75],[6990,7.6],[7020,7.55],[7060,7.5],[7100,7.55],[7130,7.65],[7160,7.8],[7200,7.7],[7230,7.55],[7260,7.45],[7280,7.3],[7300,7.25]]],
 ['r',[[7380,6.6],[7400,6.8],[7430,6.88],[7460,6.95],[7500,7.02],[7530,7.0],[7560,7.05],[7590,7.08],[7620,7.15],[7650,7.25]]],
 ['r',[[7690,7.5],[7710,7.8],[7730,7.98],[7760,7.85],[7790,7.6],[7810,7.35]]],
 ['r',[[7880,7.2],[7890,7.15],[7900,6.6],[7910,6.95],[7940,6.98],[7970,7.05],[8010,7.0],[8050,6.92],[8080,6.88],[8120,6.85],[8180,6.85]]],
 ['k',[[8350,3.85],[8370,3.75],[8390,3.65],[8400,3.0],[8410,2.58],[8450,2.57],[8490,2.6],[8510,3.0],[8520,3.75],[8540,3.72],[8560,3.75],[8580,3.78]]]
];

// ---------------- STYLE / LAYOUT ----------------
const clusterColours = {b:'#0000ff', g:'#008000', r:'#ff0000', c:'#00bfbf', m:'#bf00bf', y:'#bfbf00', k:'#000000', v:'#9b30ff'};
const rows = [
  {top:188, xH:73, badgeY:197, arrowY:361, panels:[um1, um2, um3, um4, um5], lefts:[178,707,1237,1765,2296], widths:[453,452,453,453,452]},
  {top:734, xH:78, badgeY:746, arrowY:910, panels:[rt1, rt2, rt3, rt4, rt5], lefts:[178,707,1227,1765,2296], widths:[453,452,451,453,452]}
];
const PLOT_H = 350, Y_W = 65, PAD_T = 10, PAD_R = 24;
const badgeX = [404, 933, 1462, 1992, 2521];
const arrowStarts = [602, 1130, 1659, 2189];

Chart.defaults.animation = false;
Chart.defaults.font.family = '"DejaVu Sans", sans-serif';

const framePlugin = {
  id: 'frame',
  beforeDraw(chart) {
    const {ctx, chartArea: a} = chart;
    ctx.save(); ctx.fillStyle = '#ffffff'; ctx.fillRect(a.left, a.top, a.width, a.height); ctx.restore();
  },
  afterDraw(chart) {
    const {ctx, chartArea: a, scales} = chart;
    ctx.save();
    ctx.strokeStyle = '#1a1a1a'; ctx.lineWidth = 1.5;
    ctx.strokeRect(a.left, a.top, a.width, a.height);
    ctx.lineWidth = 1.2;
    ctx.beginPath();
    scales.x.ticks.forEach(t => {
      const px = scales.x.getPixelForValue(t.value);
      ctx.moveTo(px, a.bottom); ctx.lineTo(px, a.bottom - 4);
      ctx.moveTo(px, a.top); ctx.lineTo(px, a.top + 4);
    });
    scales.y.ticks.forEach(t => {
      const py = scales.y.getPixelForValue(t.value);
      ctx.moveTo(a.left, py); ctx.lineTo(a.left + 4, py);
      ctx.moveTo(a.right, py); ctx.lineTo(a.right - 4, py);
    });
    ctx.stroke();
    ctx.restore();
  }
};

const chartsDiv = document.getElementById('charts');
rows.forEach((row, ri) => {
  row.panels.forEach((segs, pi) => {
    const w = row.widths[pi];
    const cv = document.createElement('canvas');
    cv.className = 'pc';
    cv.width = Y_W + w + PAD_R;
    cv.height = PAD_T + PLOT_H + row.xH;
    cv.style.left = (row.lefts[pi] - Y_W) + 'px';
    cv.style.top = (row.top - PAD_T) + 'px';
    chartsDiv.appendChild(cv);
    const datasets = segs.map(([cl, pts]) => ({
      data: pts.map(([x, y]) => ({x, y})),
      borderColor: clusterColours[cl],
      borderWidth: 1.6,
      pointRadius: 0,
      fill: false,
      tension: 0
    }));
    new Chart(cv, {
      type: 'line',
      data: {datasets},
      options: {
        responsive: false,
        devicePixelRatio: 1,
        events: [],
        layout: {padding: {top: PAD_T, right: PAD_R, left: 0, bottom: 0}},
        plugins: {legend: {display: false}, tooltip: {enabled: false}},
        scales: {
          x: {
            type: 'linear', min: 0, max: 10000,
            afterBuildTicks: s => { s.ticks = xTicks.map(v => ({value: v})); },
            afterFit: s => { s.height = row.xH; },
            grid: {display: false, drawTicks: false},
            border: {display: false},
            ticks: {color: '#000', font: {size: 12}, padding: 4, maxRotation: 0, autoSkip: false, callback: v => String(v)},
            title: {display: pi === 2, text: xTitle, color: '#555', font: {family: '"Liberation Sans", Arial, sans-serif', size: 36}, padding: {top: 0, bottom: 0}}
          },
          y: {
            type: 'linear', min: 2, max: 10,
            afterBuildTicks: s => { s.ticks = yTicks.map(v => ({value: v})); },
            afterFit: s => { s.width = Y_W; },
            grid: {display: false, drawTicks: false},
            border: {display: false},
            ticks: {color: '#000', font: {size: 12}, padding: 5, autoSkip: false, callback: v => String(v)},
            title: {display: pi === 0, text: yTitle, color: '#555', font: {family: '"Liberation Sans", Arial, sans-serif', size: 37}, padding: {top: 0, bottom: 0}}
          }
        }
      },
      plugins: [framePlugin]
    });
  });
});

// arrows (decoration)
const svg = document.getElementById('arrows');
rows.forEach(row => {
  arrowStarts.forEach(s => {
    const cy = row.arrowY;
    const pts = [[s, cy-23],[s+79, cy-23],[s+79, cy-51],[s+135, cy],[s+79, cy+51],[s+79, cy+23],[s, cy+23]];
    const poly = document.createElementNS('http://www.w3.org/2000/svg', 'polygon');
    poly.setAttribute('points', pts.map(p => p.join(',')).join(' '));
    poly.setAttribute('fill', 'rgba(96,82,112,0.7)');
    svg.appendChild(poly);
  });
});

// player badges
const bd = document.getElementById('badges');
rows.forEach(row => {
  playerLabels.forEach((lab, i) => {
    const d = document.createElement('div');
    d.className = 'badge';
    d.textContent = lab;
    d.style.left = (badgeX[i] - 53.5) + 'px';
    d.style.top = (row.badgeY - 53.5) + 'px';
    bd.appendChild(d);
  });
});

// fit text lines to the measured widths of the original
function justify(el, target) {
  const nat = el.getBoundingClientRect().width;
  const spaces = (el.textContent.match(/ /g) || []).length;
  if (spaces) el.style.wordSpacing = ((target - nat) / spaces) + 'px';
}
function fitLetters(el, target) {
  const nat = el.getBoundingClientRect().width;
  el.style.letterSpacing = ((target - nat) / el.textContent.length) + 'px';
}
justify(document.getElementById('c1'), 2652);
justify(document.getElementById('c2'), 2652);
fitLetters(document.getElementById('h1'), 845);
fitLetters(document.getElementById('h2'), 968);
</script>
</body>
</html>
